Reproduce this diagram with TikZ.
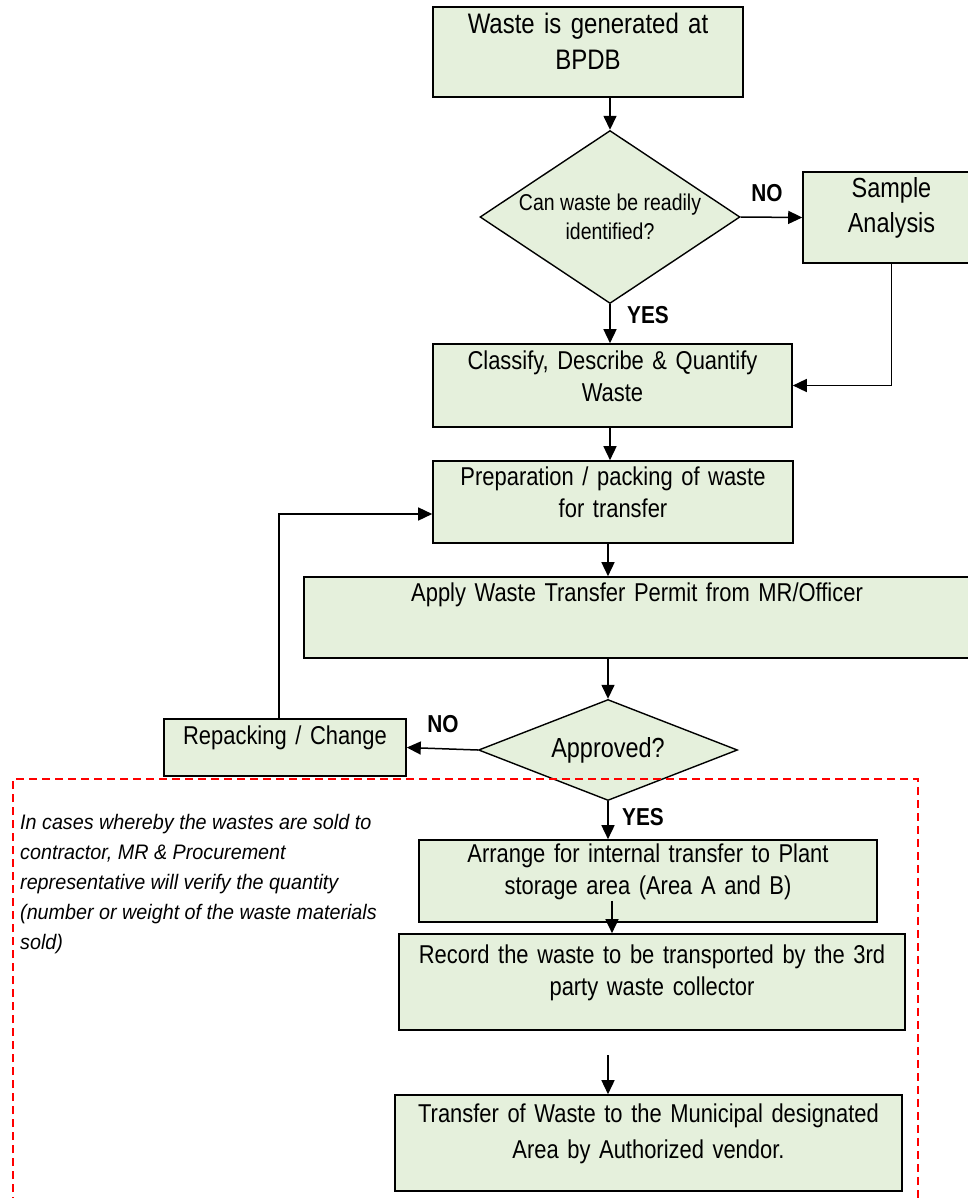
\documentclass[tikz,border=0pt]{standalone}
\usepackage{fontspec}
\setmainfont{Liberation Sans}[FakeStretch=0.85]
\newfontfamily\notefont{Liberation Sans}[FakeStretch=0.94]
\newcommand{\tightspace}{\spaceskip=0.24em plus 0.05em minus 0.02em\relax}
\usepackage{tikz}
\usetikzlibrary{shapes.geometric, arrows.meta, calc, positioning, fit}
\definecolor{boxgreen}{RGB}{229,240,220}

\begin{document}
\begin{tikzpicture}[x=1pt, y=-1pt, arrow/.style = {line width=1.5pt,-{Triangle[length=14pt,width=13pt]}}]
		\tikzset{stepbox/.style={draw=black, line width=1.6pt, fill=boxgreen, inner sep=0pt, align=center, text centered, font=\fontsize{25.8}{32}\selectfont\tightspace}}
		\tikzset{decision/.style={diamond, draw=black, line width=1.4pt, fill=boxgreen, inner sep=0pt, aspect=1.5, align=center}}
		\tikzset{answer/.style={font=\bfseries\fontsize{24.5}{28}\selectfont}}
		\useasboundingbox (0,0) rectangle (967,1198);

		\node[fit={(433,7) (743,97)}, stepbox, font=\fontsize{28.2}{36}\selectfont\tightspace] (generated) {Waste is generated at\\BPDB};
		\node[decision, minimum width=260pt, minimum height=173pt, font=\fontsize{22.9}{29}\selectfont\tightspace] (ask) at (610,217) {Can waste be readily\\identified?};
		\node[fit={(803,172) (980,263)}, stepbox, font=\fontsize{27.6}{35}\selectfont] (sample) {Sample\\Analysis};
		\node[fit={(433,344) (792,427)}, stepbox] (classify) {Classify, Describe \& Quantify\\Waste};
		\node[fit={(433,461) (793,543)}, stepbox] (prep) {Preparation / packing of waste\\for transfer};
		\node[fit={(304,577) (970,658)}, stepbox] (apply) {Apply Waste Transfer Permit from MR/Officer\\\mbox{}};
		\node[decision, minimum width=259pt, minimum height=101pt, aspect=2.5, font=\fontsize{27.6}{30}\selectfont] (approved) at (608,750) {Approved?};
		\node[fit={(164,719) (406,776)}, stepbox] (repack) {Repacking / Change};
		\node[fit={(419,840) (877,922)}, stepbox] (arrange) {Arrange for internal transfer to Plant\\storage area (Area A and B)};
		\node[fit={(399,934) (905,1030)}, stepbox] (record) {Record the waste to be transported by the 3rd\\party waste collector};
		\node[fit={(395,1095) (902,1191)}, stepbox, font=\fontsize{25.8}{36}\selectfont\tightspace] (transfer) {Transfer of Waste to the Municipal designated\\Area by Authorized vendor.};

		\node[anchor=north west, inner sep=0pt, align=left, font=\notefont\itshape\fontsize{21}{30}\selectfont] (note) at (20,814) {In cases whereby the wastes are sold to\\contractor, MR \& Procurement\\representative will verify the quantity\\(number or weight of the waste materials\\sold)};

		\node[answer] (no1) at (767,193) {NO};
		\node[answer] (yes1) at (648,315) {YES};
		\node[answer] (no2) at (443,724) {NO};
		\node[answer] (yes2) at (643,817) {YES};
		\coordinate (gap) at (608,1055);

		\draw [arrow] (generated.south -| ask.north) -- (ask.north);
		\draw [arrow] (ask.east) -- (sample.west);
		\draw [arrow] (ask.south) -- (ask.south |- classify.north);
		\draw [arrow] (sample.south) |- (classify.east);
		\draw [arrow] (classify.south -| ask.south) -- (prep.north -| ask.south);
		\draw [arrow] (prep.south -| approved.north) -- (apply.north -| approved.north);
		\draw [arrow] (apply.south -| approved.north) -- (approved.north);
		\draw [arrow] (approved.west) -- (repack.east);
		\draw [arrow] (repack.north -| 279,0) |- ([yshift=-12pt]prep.west);
		\draw [arrow] (approved.south) -- (approved.south |- arrange.north);
		\draw [arrow] ($(arrange.south -| approved.south)+(4,-22)$) -- ($(record.north -| approved.south)+(4,0)$);
		\draw [arrow] (gap) -- (gap |- transfer.north);

		\draw [red, line width=1.5pt, dash pattern=on 8pt off 5pt] (13,1205) -- (13,779) -- (918,779) -- (918,1205);
	\end{tikzpicture}
\end{document}
